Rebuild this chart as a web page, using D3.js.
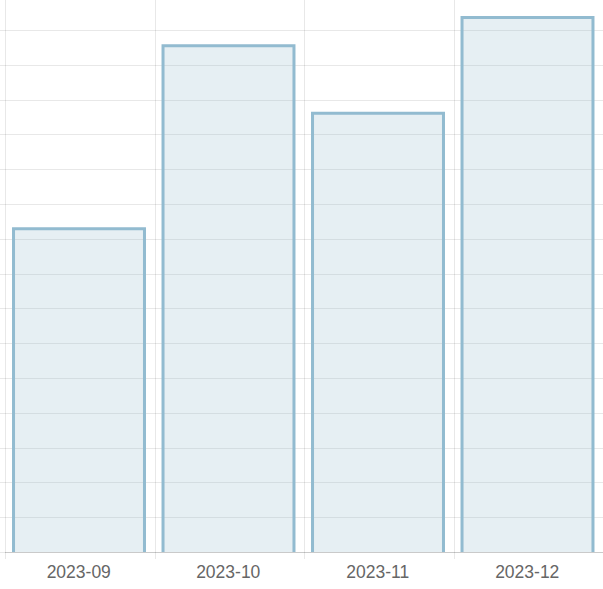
<!DOCTYPE html>
<html>
<head>
<meta charset="utf-8">
<script src="https://cdn.jsdelivr.net/npm/d3@7"></script>
<style>
  html, body { margin: 0; padding: 0; background: #fff; }
  svg { display: block; }
</style>
</head>
<body>
<svg id="chart" width="603" height="589"></svg>
<script>
const categories = ["2023-09", "2023-10", "2023-11", "2023-12"];
const values = [9.29, 14.55, 12.61, 15.36];
const yTicks = d3.range(0, 17, 1);

(function () {
const W = 603, H = 589;
const plotLeft = 5, plotRight = 603, plotBottom = 552, plotTop = 552 - 16 * 34.8;

const svg = d3.select("#chart");

const x = d3.scaleBand().domain(categories).range([plotLeft, plotRight]).padding(0);
const y = d3.scaleLinear().domain([0, 16]).range([plotBottom, plotTop]);

const grid = svg.append("g").attr("shape-rendering", "crispEdges");

grid.selectAll("line.h").data(yTicks).join("line")
  .attr("class", "h")
  .attr("x1", 0).attr("x2", plotRight)
  .attr("y1", d => Math.round(y(d)) + 0.5).attr("y2", d => Math.round(y(d)) + 0.5)
  .attr("stroke", "rgba(0,0,0,0.09)").attr("stroke-width", 1);

const bounds = categories.map(c => x(c)).concat([plotRight]);
grid.selectAll("line.v").data(bounds).join("line")
  .attr("class", "v")
  .attr("x1", d => Math.round(d) + 0.5).attr("x2", d => Math.round(d) + 0.5)
  .attr("y1", 0).attr("y2", plotBottom + 7)
  .attr("stroke", "rgba(0,0,0,0.09)").attr("stroke-width", 1);

grid.append("line")
  .attr("x1", plotLeft).attr("x2", plotRight)
  .attr("y1", plotBottom + 0.5).attr("y2", plotBottom + 0.5)
  .attr("stroke", "rgba(0,0,0,0.13)");

const bw = x.bandwidth();
const barOff = bw * 0.057, barW = bw * 0.876;
const bars = svg.append("g");
bars.selectAll("rect").data(values).join("rect")
  .attr("x", (d, i) => x(categories[i]) + barOff)
  .attr("y", d => y(d))
  .attr("width", barW)
  .attr("height", d => plotBottom - y(d))
  .attr("fill", "rgba(151,187,205,0.24)");
bars.selectAll("path").data(values).join("path")
  .attr("d", (d, i) => {
    const x0 = x(categories[i]) + barOff, x1 = x0 + barW, yt = y(d);
    return `M${x0},${plotBottom}V${yt}H${x1}V${plotBottom}`;
  })
  .attr("fill", "none")
  .attr("stroke", "#92bbd0")
  .attr("stroke-width", 3);

svg.append("g").selectAll("text").data(categories).join("text")
  .attr("x", d => x(d) + bw / 2 - 1)
  .attr("y", 578)
  .attr("text-anchor", "middle")
  .attr("font-family", "'Liberation Sans', Arial, sans-serif")
  .attr("font-size", 17.5)
  .attr("fill", "#666")
  .text(d => d);
})();
</script>
</body>
</html>
